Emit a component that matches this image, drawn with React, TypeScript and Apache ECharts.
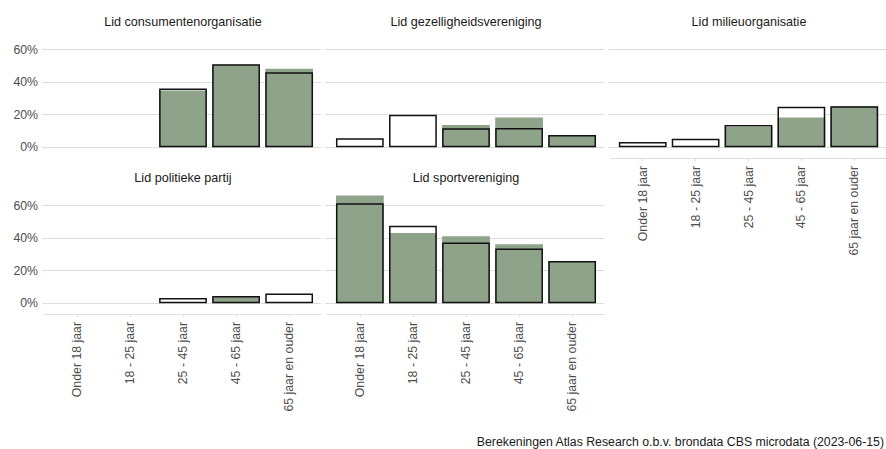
import React, { useEffect, useRef } from "react";
import * as echarts from "echarts";

const categories = ["Onder 18 jaar", "18 - 25 jaar", "25 - 45 jaar", "45 - 65 jaar", "65 jaar en ouder"];
const panelTitles = [
  "Lid consumentenorganisatie",
  "Lid gezelligheidsvereniging",
  "Lid milieuorganisatie",
  "Lid politieke partij",
  "Lid sportvereniging",
];
// outlined bars (null = no bar)
const outlineValues: (number | null)[][] = [
  [null, null, 36, 51, 46],
  [5.5, 20, 11.6, 11.8, 7.5],
  [3.2, 5.2, 13.6, 24.9, 25.1],
  [null, null, 3.3, 4.5, 6],
  [61.4, 47.6, 37.3, 33.6, 26],
];
// green filled bars (null = no bar)
const greenValues: (number | null)[][] = [
  [null, null, 34.8, 50.6, 48.2],
  [null, null, 13.6, 18.3, 7.5],
  [null, null, 12.4, 18.3, 25.1],
  [null, null, null, 4.3, null],
  [66.2, 43.1, 41.2, 36.3, 26],
];
const yTicks = [0, 20, 40, 60];
const caption = "Berekeningen Atlas Research o.b.v. brondata CBS microdata (2023-06-15)";

const FONT = '"Liberation Sans", Arial, sans-serif';
const GREEN = "#8fa38b";
const GRID_COLOR = "#dedede";

export default function App() {
  const ref = useRef<HTMLDivElement>(null);
  useEffect(() => {
    if (!ref.current) return;
    const chart = echarts.init(ref.current, undefined, { renderer: "svg" });
    const lefts = [45, 328, 611, 45, 328];
    const tops = [29, 29, 29, 185, 185];
    const W = 276;
    const H = 129;
    const barW = (0.9 * W) / 5.2;
    const showX = [false, false, true, true, true];
    const showYLabel = [true, false, false, true, false];

    const grid: any[] = [];
    const xAxis: any[] = [];
    const yAxis: any[] = [];
    const series: any[] = [];
    const graphic: any[] = [];
    const toData = (arr: (number | null)[]) =>
      arr.map((v, i) => (v == null ? null : [i + 1, v])).filter((d) => d !== null);

    for (let p = 0; p < 5; p++) {
      grid.push({ left: lefts[p], top: tops[p], width: W, height: H, containLabel: false });
      xAxis.push({
        type: "value",
        gridIndex: p,
        min: 0.4,
        max: 5.6,
        axisLine: { show: showX[p], onZero: false, lineStyle: { color: GRID_COLOR, width: 1.1 } },
        axisTick: { show: showX[p], customValues: [1, 2, 3, 4, 5], length: 3, lineStyle: { color: GRID_COLOR, width: 1.1 } },
        axisLabel: {
          show: showX[p],
          customValues: [1, 2, 3, 4, 5],
          formatter: (v: number) => categories[Math.round(v) - 1] ?? "",
          rotate: 90,
          margin: 8,
          color: "#4d4d4d",
          fontSize: 12.3,
          fontFamily: FONT,
        },
        splitLine: { show: false },
      });
      yAxis.push({
        type: "value",
        gridIndex: p,
        min: -6.6,
        max: 72.6,
        axisLine: { show: false },
        axisTick: { show: true, customValues: yTicks, length: 3, lineStyle: { color: GRID_COLOR, width: 1.1 } },
        axisLabel: {
          show: showYLabel[p],
          customValues: yTicks,
          formatter: (v: number) => `${v}%`,
          color: "#4d4d4d",
          fontSize: 12.3,
          fontFamily: FONT,
          margin: 7,
        },
        splitLine: { show: true, lineStyle: { color: GRID_COLOR, width: 1.1 } },
      });
      series.push({
        type: "bar",
        xAxisIndex: p,
        yAxisIndex: p,
        barWidth: barW,
        barGap: "-100%",
        data: toData(outlineValues[p]),
        itemStyle: { color: "#ffffff" },
        silent: true,
      });
      series.push({
        type: "bar",
        xAxisIndex: p,
        yAxisIndex: p,
        barWidth: barW,
        barGap: "-100%",
        data: toData(greenValues[p]),
        itemStyle: { color: GREEN },
        silent: true,
      });
      series.push({
        type: "bar",
        xAxisIndex: p,
        yAxisIndex: p,
        barWidth: barW,
        barGap: "-100%",
        data: toData(outlineValues[p]),
        itemStyle: { color: "rgba(0,0,0,0)", borderColor: "#111111", borderWidth: 1.5 },
        silent: true,
      });
      graphic.push({
        type: "text",
        x: lefts[p] + W / 2,
        y: tops[p] - 7.5,
        style: {
          text: panelTitles[p],
          fill: "#1a1a1a",
          font: `12.6px ${FONT}`,
          align: "center",
          verticalAlign: "middle",
        },
      });
    }
    graphic.push({
      type: "text",
      x: 884,
      y: 442,
      style: {
        text: caption,
        fill: "#1a1a1a",
        font: `12.3px ${FONT}`,
        align: "right",
        verticalAlign: "middle",
      },
    });

    chart.setOption({
      animation: false,
      backgroundColor: "#ffffff",
      grid,
      xAxis,
      yAxis,
      series,
      graphic,
    });
    return () => chart.dispose();
  }, []);
  return <div ref={ref} style={{ width: 886, height: 449, position: "absolute", left: 0, top: 0 }} />;
}
